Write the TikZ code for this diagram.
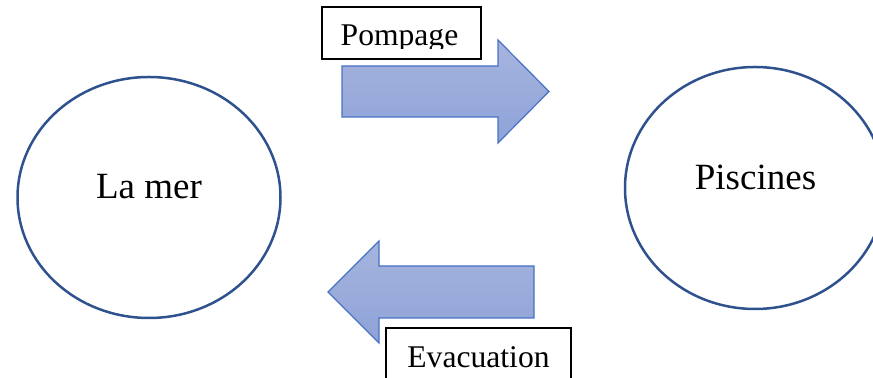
\documentclass[tikz,border=0pt]{standalone}
\usepackage{fontspec}
\setmainfont{Liberation Serif}
\usepackage{tikz}
\usetikzlibrary{shapes.geometric}

\definecolor{ringblue}{RGB}{47,82,143}
\definecolor{arrowline}{RGB}{72,114,196}
\definecolor{arrowtop}{RGB}{166,180,222}
\definecolor{arrowbot}{RGB}{143,163,216}

\begin{document}
\begin{tikzpicture}[
  x=0.5pt,y=-0.5pt,
  pool/.style={draw=ringblue,ellipse,line width=1.25pt,inner sep=0pt},
  bigtxt/.style={font=\fontsize{18.5}{22}\selectfont,anchor=base,inner sep=0pt},
  boxtxt/.style={font=\fontsize{15.8}{19}\selectfont,anchor=base,inner sep=0pt},
  tag/.style={draw,line width=0.75pt,inner sep=0pt},
  flow/.style={draw=arrowline,line width=0.6pt,line join=miter,top color=arrowtop,bottom color=arrowbot}
]
  \clip (0,0) rectangle (873,378);

  % the two reservoirs
  \node[pool,minimum width=131.5pt,minimum height=120.5pt] (mer) at (149,197.5) {};
  \node[pool,minimum width=130pt,minimum height=121pt]     (pisc) at (755,188) {};
  \node[bigtxt] (merlbl)  at (149,199)   {La mer};
  \node[bigtxt] (pisclbl) at (755.5,190) {Piscines};

  % block arrows
  \draw[flow] (342,66) -- (498,66) -- (498,40) -- (549,91.5) -- (498,143)
    -- (498,117) -- (342,117) -- cycle;
  \draw[flow] (534,266) -- (379,266) -- (379,241) -- (328,292) -- (379,343)
    -- (379,318) -- (534,318) -- cycle;

  % labels
  \node[tag,minimum width=79.5pt,minimum height=26pt] (pomp) at (401.5,33) {};
  \begin{scope}
    \clip (322,7) rectangle (481,48.5);
    \node[boxtxt] (pomplbl) at (399.5,46) {Pompage};
  \end{scope}
  \node[tag,minimum width=92.5pt,minimum height=36pt] (evac) at (478.5,364) {};
  \node[boxtxt] (evaclbl) at (478.5,368) {Evacuation};
\end{tikzpicture}
\end{document}
